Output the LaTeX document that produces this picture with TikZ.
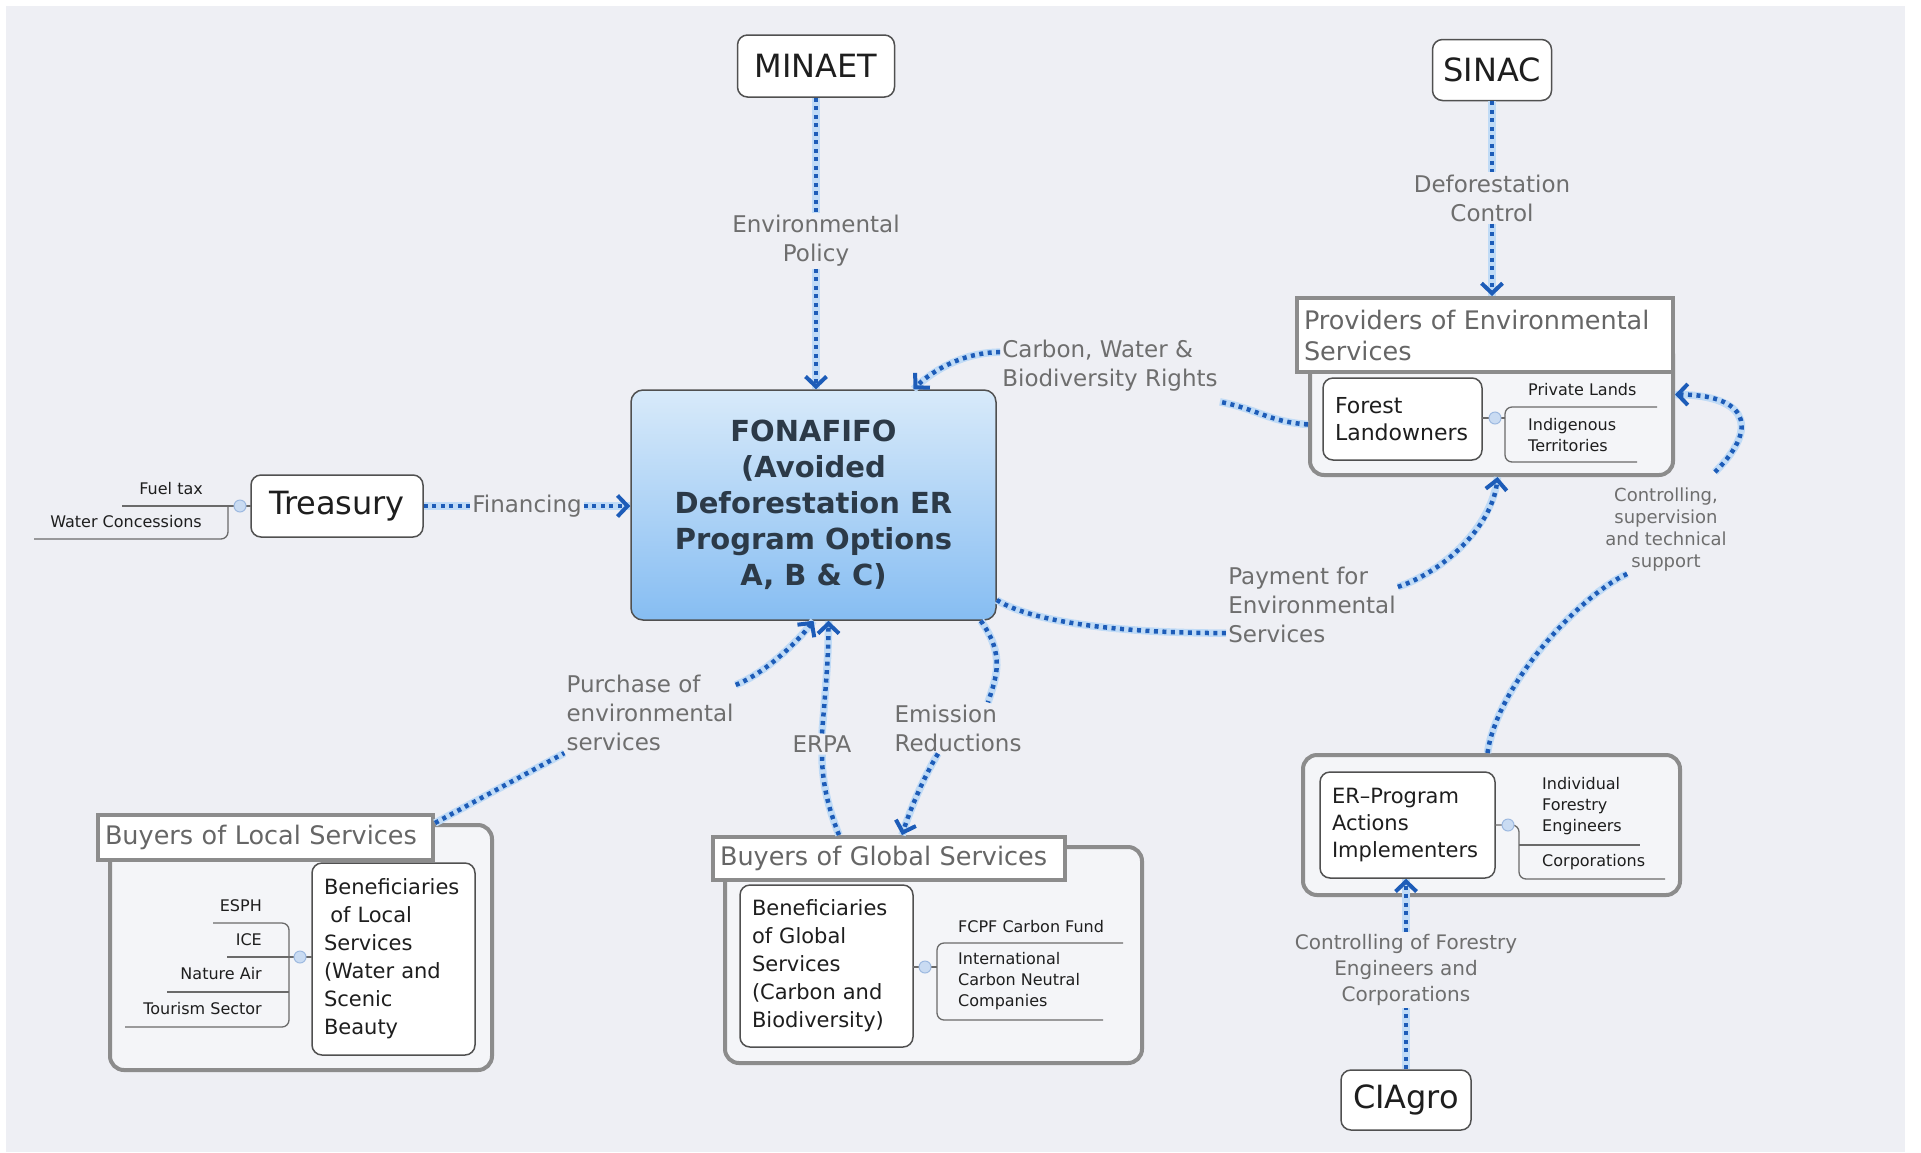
\documentclass[tikz,border=0pt]{standalone}
\usepackage{fontspec}
\setmainfont{DejaVu Sans}
\usetikzlibrary{arrows.meta}

\definecolor{bgfill}{HTML}{EEEFF4}
\definecolor{linkblue}{HTML}{1D5CB8}
\definecolor{glowblue}{HTML}{C0DBF6}
\definecolor{nodeline}{HTML}{505050}
\definecolor{groupline}{HTML}{8C8C8C}
\definecolor{groupfill}{HTML}{F4F5F8}
\definecolor{titletext}{HTML}{666666}
\definecolor{labeltext}{HTML}{6E6E6E}
\definecolor{nodetext}{HTML}{1E1E1E}
\definecolor{hubtop}{HTML}{D8EAFA}
\definecolor{hubbottom}{HTML}{86BDF2}
\definecolor{hubtext}{HTML}{2C3A48}
\definecolor{knobfill}{HTML}{C9DBF2}
\definecolor{knobline}{HTML}{9DB9E0}
\definecolor{branchgray}{HTML}{6A6A6A}

\tikzset{
  topic/.style={draw=nodeline, line width=1.5pt, rounded corners=10pt, fill=white,
    text=nodetext, font=\fontsize{32}{38}\selectfont, inner sep=0pt},
  hub/.style={draw=nodeline, line width=1.5pt, rounded corners=12pt,
    top color=hubtop, bottom color=hubbottom, text=hubtext, align=center,
    font=\bfseries\fontsize{29}{36}\selectfont, inner sep=0pt},
  group/.style={draw=groupline, line width=4pt, rounded corners=14pt, fill=groupfill, inner sep=0pt},
  grouptitle/.style={draw=groupline, line width=4pt, fill=white, text=titletext, align=left,
    font=\fontsize{25.5}{31}\selectfont, inner xsep=7pt, inner ysep=2pt},
  sub/.style={draw=nodeline, line width=1.5pt, rounded corners=10pt, fill=white, text=nodetext,
    align=left, font=\fontsize{21}{28}\selectfont, inner xsep=12pt, inner ysep=0pt},
  leaf/.style={text=nodetext, font=\fontsize{16}{21}\selectfont, inner sep=0pt, align=left},
  linklabel/.style={text=labeltext, font=\fontsize{23}{29}\selectfont, inner sep=2pt},
  link/.style={draw=linkblue, line width=4.5pt, dash pattern=on 4pt off 4.5pt,
    preaction={draw=glowblue, line width=7.5pt, solid, arrows=-}},
  arr/.style={-{Straight Barb[length=10pt,width=21pt,line width=4pt]}},
  branch/.style={draw=branchgray, line width=1.3pt},
  knob/.style={circle, draw=knobline, fill=knobfill, line width=1pt, minimum size=12pt, inner sep=0pt}
}

\begin{document}
\begin{tikzpicture}[x=1pt,y=-1pt]
\useasboundingbox (0,0) rectangle (1921,1152);
\fill[white] (0,0) rectangle (1921,1152);
\fill[bgfill] (6,6) rectangle (1905,1152);

% groups
\node[group, minimum width=363, minimum height=135] (provgrp) at (1491.5,407.5) {};
\node[grouptitle, text width=362, minimum height=74] (provtitle) at (1485,335) {Providers of Environmental\\Services};
\node[group, minimum width=382, minimum height=245] (locgrp) at (301,947.5) {};
\node[grouptitle, text width=321, minimum height=45] (loctitle) at (265.5,837.5) {Buyers of Local Services};
\node[group, minimum width=417, minimum height=216] (glogrp) at (933.5,955) {};
\node[grouptitle, text width=338, minimum height=43] (glotitle) at (889,858.5) {Buyers of Global Services};
\node[group, minimum width=377, minimum height=140] (ergrp) at (1491.5,825) {};

% main topics
\node[topic, minimum width=157, minimum height=62] (minaet) at (816,66) {MINAET};
\node[topic, minimum width=119, minimum height=61] (sinac) at (1492,70) {SINAC};
\node[topic, minimum width=172, minimum height=62] (treasury) at (337,506) {Treasury};
\node[topic, minimum width=130, minimum height=60] (ciagro) at (1406,1100) {CIAgro};
\node[hub, minimum width=365, minimum height=230] (fona) at (813.5,505)
  {FONAFIFO\\(Avoided\\Deforestation ER\\Program Options\\A, B \& C)};

% sub topics
\node[sub, text width=135, minimum height=82, font=\fontsize{22}{27}\selectfont] (landowners) at (1402.5,419) {Forest\\Landowners};
\node[sub, text width=139, minimum height=192] (locben) at (393.5,959)
  {Beneficiaries\\\hspace*{0.3em}of Local\\Services\\(Water and\\Scenic\\Beauty};
\node[sub, text width=149, minimum height=162] (globen) at (826.5,966)
  {Beneficiaries\\of Global\\Services\\(Carbon and\\Biodiversity)};
\node[sub, text width=151, minimum height=106, font=\fontsize{21}{27}\selectfont] (erbox) at (1407.5,825)
  {ER--Program\\Actions\\Implementers};

% leaves
\node[leaf, anchor=east] (fuel) at (203,489) {Fuel tax};
\node[leaf, anchor=east] (water) at (202,522) {Water Concessions};
\draw[branch] (122,506) -- (251,506);
\draw[branch, rounded corners=7pt] (228,506) -- (228,539) -- (34,539);
\node[knob] (knob1) at (240,506) {};

\node[leaf, anchor=east] (esph) at (262,906) {ESPH};
\node[leaf, anchor=east] (ice) at (262,940) {ICE};
\node[leaf, anchor=east] (natair) at (262,974) {Nature Air};
\node[leaf, anchor=east] (tourism) at (262,1009) {Tourism Sector};
\draw[branch, rounded corners=7pt] (213,923) -- (289,923) -- (289,1027) -- (125,1027);
\draw[branch] (227,957) -- (312,957);
\draw[branch] (167,992) -- (289,992);
\node[knob] (knob2) at (300,957) {};

\node[leaf, anchor=west] (fcpf) at (958,927) {FCPF Carbon Fund};
\node[leaf, anchor=west] (intl) at (958,981) {International\\Carbon Neutral\\Companies};
\draw[branch, rounded corners=7pt] (1123,943) -- (937,943) -- (937,1020) -- (1103,1020);
\draw[branch] (913,967) -- (937,967);
\node[knob] (knob3) at (925,967) {};

\node[leaf, anchor=west] (engineers) at (1542,806) {Individual\\Forestry\\Engineers};
\node[leaf, anchor=west] (corps) at (1542,862) {Corporations};
\draw[branch, rounded corners=7pt] (1495,825) -- (1519,825) -- (1519,879) -- (1665,879);
\draw[branch] (1519,845) -- (1640,845);
\node[knob] (knob4) at (1508,825) {};

\node[leaf, anchor=west] (lands) at (1528,390) {Private Lands};
\node[leaf, anchor=west] (indig) at (1528,435) {Indigenous\\Territories};
\draw[branch, rounded corners=7pt] (1657,407) -- (1505,407) -- (1505,462) -- (1637,462);
\draw[branch] (1482,418) -- (1505,418);
\node[knob] (knob5) at (1495,418) {};

% link labels
\node[linklabel, align=center] (envpol) at (816,241) {Environmental\\Policy};
\node[linklabel, align=center] (defcon) at (1492,198) {Deforestation\\Control};
\node[linklabel] (fin) at (527,506) {Financing};
\node[linklabel, align=left] (rights) at (1110,366) {Carbon, Water \&\\Biodiversity Rights};
\node[linklabel, align=left] (payment) at (1312,605) {Payment for\\Environmental\\Services};
\node[linklabel, align=left] (purchase) at (650,713) {Purchase of\\environmental\\services};
\node[linklabel] (erpa) at (822,744) {ERPA};
\node[linklabel, align=left] (emission) at (958,728) {Emission\\Reductions};
\node[linklabel, align=center, font=\fontsize{18}{22}\selectfont] (ctrl) at (1666,530)
  {Controlling,\\supervision\\and technical\\support};
\node[linklabel, align=center, font=\fontsize{20}{26}\selectfont] (ctrlfor) at (1406,970)
  {Controlling of Forestry\\Engineers and\\Corporations};

% links
\draw[link] (minaet) -- (envpol);
\draw[link, arr] (envpol) -- (envpol |- fona.north);
\draw[link] (sinac) -- (defcon);
\draw[link, arr] (defcon) -- (defcon |- provtitle.north);
\draw[link] (treasury) -- (fin);
\draw[link, arr] (fin) -- (fin -| fona.west);
\draw[link] (ciagro) -- (ctrlfor);
\draw[link, arr] (ctrlfor.north) -- (ctrlfor.north |- erbox.south);

\draw[link] ([yshift=-17pt]provgrp.west) .. controls +(-40,-3) and +(40,8) .. ([yshift=-8pt]rights.south east);
\draw[link, arr] ([yshift=-14pt]rights.north west) .. controls +(-35,0) and +(20,-20) .. ([xshift=100pt]fona.north);

\draw[link] ([yshift=-95pt]fona.east) .. controls +(40,25) and +(-90,0) .. ([yshift=12pt]payment.south west);
\draw[link, arr] ([yshift=-22pt]payment.north east) .. controls +(45,-15) and +(-5,50) .. ([xshift=6pt]provgrp.south);

\draw[link] ([yshift=-10pt]loctitle.north east) -- (purchase.south west);
\draw[link, arr] ([yshift=-12pt]purchase.north east) .. controls +(30,-12) and +(-15,20) .. (fona.south);

\draw[link] ([xshift=-50pt]glotitle.north) .. controls +(-12,-30) and +(0,25) .. (erpa.south);
\draw[link, arr] (erpa.north) .. controls +(3,-40) and +(0,40) .. ([xshift=15pt]fona.south);

\draw[link] ([xshift=-16pt]fona.south east) .. controls +(25,35) and +(8,-25) .. ([xshift=30pt]emission.north);
\draw[link, arr] ([xshift=-20pt]emission.south) .. controls +(-15,25) and +(8,-25) .. ([xshift=13pt]glotitle.north);

\draw[link] ([xshift=-4pt]ergrp.north) .. controls +(10,-70) and +(-45,20) .. ([xshift=24pt]ctrl.south west);
\draw[link, arr] ([xshift=-14pt,yshift=14pt]ctrl.north east) .. controls +(50,-50) and +(65,0) .. ([yshift=13pt]provgrp.east);
\end{tikzpicture}
\end{document}
